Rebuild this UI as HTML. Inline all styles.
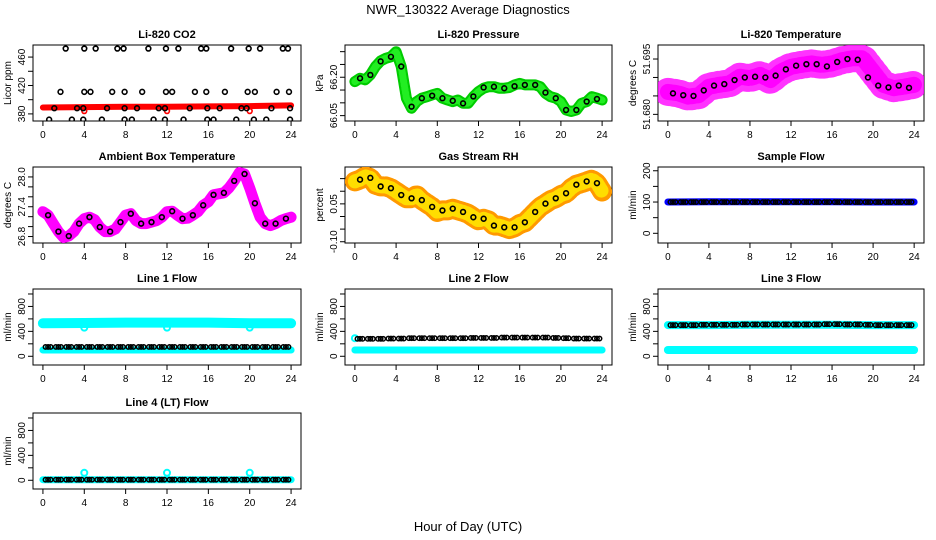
<!DOCTYPE html>
<html><head><meta charset="utf-8"><style>
html,body{margin:0;padding:0;background:#fff}
svg{display:block;font-family:"Liberation Sans",sans-serif}
</style></head><body>
<svg id="c" width="936" height="540" viewBox="0 0 936 540" xmlns="http://www.w3.org/2000/svg">
<text x="468" y="14" text-anchor="middle" font-size="13">NWR_130322  Average Diagnostics</text>
<text x="468" y="531" text-anchor="middle" font-size="13">Hour of Day (UTC)</text>
</svg>
<script>
// ---- data ----
const xTicks=[0,4,8,12,16,20,24];
const co2BlackHours=[2.2,4.0,5.1,7.2,7.8,10.2,11.9,13.1,15.3,15.8,18.2,19.9,21.0,23.2,23.7,
1.7,4.0,4.6,6.7,7.9,9.6,11.9,12.5,14.7,15.8,17.6,19.8,20.5,22.6,23.8,
1.1,3.3,3.9,6.2,7.9,9.1,11.2,11.8,14.2,15.9,17.1,19.2,19.7,22.1,23.9,
0.6,2.8,3.9,5.7,7.9,8.6,10.7,11.8,13.6,15.9,16.5,18.7,20.4,21.6,23.9];
const co2BlackVals=[472,472,472,472,472,472,472,472,472,472,472,472,472,472,472,
411,411,411,411,411,411,411,411,411,411,411,411,411,411,411,
388,388,388,388,388,388,388,388,388,388,388,388,388,388,388,
372,372,372,372,372,372,372,372,372,372,372,372,372,372,372];
const co2RedHours=[0,4,8,12,16,20,24];
const co2RedVals=[389,389.5,390,390,390.5,391,392];
const halfHours=[0,0.5,1,1.5,2,2.5,3,3.5,4,4.5,5,5.5,6,6.5,7,7.5,8,8.5,9,9.5,10,10.5,11,11.5,12,12.5,13,13.5,14,14.5,15,15.5,16,16.5,17,17.5,18,18.5,19,19.5,20,20.5,21,21.5,22,22.5,23,23.5,24];
const blackHours=[0.5,1.5,2.5,3.5,4.5,5.5,6.5,7.5,8.5,9.5,10.5,11.5,12.5,13.5,14.5,15.5,16.5,17.5,18.5,19.5,20.5,21.5,22.5,23.5];
const pressGreen=[66.183,66.196,66.19,66.209,66.242,66.264,66.274,66.28,66.30,66.242,66.118,66.079,66.105,66.118,66.124,66.131,66.137,66.118,66.111,66.105,66.111,66.098,66.098,66.124,66.144,66.157,66.163,66.163,66.157,66.157,66.16,66.17,66.176,66.17,66.17,66.17,66.163,66.137,66.124,66.118,66.105,66.072,66.066,66.072,66.098,66.105,66.124,66.118,66.111];
const pressBlack=[66.196,66.209,66.262,66.28,66.242,66.085,66.118,66.128,66.118,66.108,66.098,66.125,66.16,66.163,66.157,66.165,66.17,66.17,66.14,66.118,66.072,66.072,66.105,66.115];
const liTempHours=[0,1,2,3,4,5,6,7,8,9,10,11,12,13,14,15,16,17,18,19,20,21,22,23,24];
const liTempMagenta=[51.6861,51.6857,51.6848,51.6852,51.6875,51.6880,51.6884,51.6902,51.6898,51.6907,51.6893,51.6916,51.6929,51.6934,51.6938,51.6934,51.6938,51.6947,51.6952,51.6952,51.6916,51.6880,51.6871,51.6875,51.6880];
const liTempBlack=[51.6857,51.6852,51.6850,51.6865,51.6878,51.6882,51.6893,51.6900,51.6902,51.6900,51.6905,51.6922,51.6932,51.6936,51.6936,51.6930,51.6942,51.6950,51.6948,51.6900,51.6878,51.6873,51.6878,51.6872];
const ambMagenta=[27.30,27.23,27.06,26.90,26.78,26.81,26.90,27.06,27.16,27.19,27.14,26.99,26.90,26.90,26.95,27.09,27.23,27.26,27.12,27.06,27.06,27.09,27.12,27.19,27.30,27.31,27.23,27.16,27.17,27.23,27.30,27.43,27.50,27.64,27.66,27.68,27.78,27.92,28.09,28.06,27.78,27.47,27.19,27.06,27.02,27.06,27.12,27.16,27.19];
const ambBlack=[27.23,26.90,26.81,27.06,27.19,26.99,26.90,27.09,27.26,27.06,27.09,27.19,27.31,27.16,27.23,27.43,27.64,27.68,27.92,28.06,27.47,27.06,27.06,27.16];
const rhOrange=[0.139,0.146,0.159,0.153,0.126,0.119,0.119,0.112,0.099,0.085,0.072,0.072,0.085,0.065,0.051,0.038,0.018,0.024,0.024,0.031,0.024,0.018,0.011,-0.003,-0.016,-0.009,-0.016,-0.036,-0.036,-0.043,-0.05,-0.043,-0.03,-0.023,-0.003,0.018,0.038,0.051,0.065,0.072,0.085,0.092,0.112,0.126,0.132,0.139,0.146,0.132,0.099];
const rhBlack=[0.146,0.153,0.119,0.112,0.085,0.072,0.065,0.038,0.024,0.031,0.018,-0.003,-0.009,-0.036,-0.043,-0.043,-0.023,0.018,0.051,0.072,0.092,0.126,0.139,0.132];
const bandHours=[0,4,8,12,16,20,24];
const sampleBlue=[100,101,101,101,101,100,100];
const sampleBlack=[100,100,100,100,100,100,100,100,100,100,100,100,100,100,100,100,100,100,100,100,100,100,100,100];
const line1CyanHi=[530,535,540,540,540,530,530];
const line1CyanLo=[100,100,100,100,100,100,100];
const line1Black=[150,150,150,150,150,150,150,150,150,150,150,150,150,150,150,150,150,150,150,150,150,150,150,150];
const line2Cyan=[100,100,100,100,100,100,100];
const line2Black=[280,280,280,285,285,290,290,290,290,290,290,295,295,295,300,300,300,300,300,295,290,285,285,285];
const line3CyanHi=[500,500,505,505,505,500,500];
const line3CyanLo=[100,100,100,100,100,100,100];
const line3Black=[500,500,500,505,505,505,505,510,510,510,510,510,510,510,510,515,515,510,510,505,500,500,500,500];
const line4Cyan=[10,10,10,10,10,10,10];
const line4Black=[10,10,10,10,10,10,10,10,10,10,10,10,10,10,10,10,10,10,10,10,10,10,10,10];
const dipHours=[4,12,20];
const line1Dips=[460,460,460];
const line4Spikes=[120,120,120];
const co2Ticks=[380,400,420,440,460], co2Labels=["380","","420","","460"];
const pressTicks=[66.05,66.10,66.15,66.20,66.25,66.30], pressLabels=["66.05","","","66.20","",""];
const liTempTicks=[51.680,51.685,51.690,51.695], liTempLabels=["51.680","","","51.695"];
const ambTicks=[26.8,27.0,27.2,27.4,27.6,27.8,28.0], ambLabels=["26.8","","","27.4","","","28.0"];
const rhTicks=[-0.10,-0.05,0,0.05,0.10,0.15], rhLabels=["-0.10","","","0.05","",""];
const sampleTicks=[0,50,100,150,200], sampleLabels=["0","","100","","200"];
const flowTicks=[0,200,400,600,800,1000], flowLabels=["0","","400","","800",""];

// ---- drawing ----
const svg=document.getElementById('c');
const NS='http://www.w3.org/2000/svg';
function mk(tag,attrs,parent){const e=document.createElementNS(NS,tag);for(const k in attrs)e.setAttribute(k,attrs[k]);(parent||svg).appendChild(e);return e;}
const colL=[33,345,658], colR=[301,612,924], rowT=[45,167,289,413], H=76;

function panel(col,row,title,ylab,ylim,ticks,labels,name){
  const L=colL[col],R=colR[col],T=rowT[row],B=T+H;
  const g=mk('g',{});
  
  
  const sx=h=>L+(h+0.96)/25.92*(R-L);
  const sy=v=>B-(v-ylim[0])/(ylim[1]-ylim[0])*(B-T);
  const box=mk('rect',{x:L,y:T,width:R-L,height:H,fill:'none',stroke:'#000','stroke-width':1},g);
  
  
  const t=mk('text',{x:(L+R)/2,y:T-7,'text-anchor':'middle','font-size':11,'font-weight':'bold'},g);
  t.textContent=title;
  
  
  const yl=mk('text',{x:0,y:0,'text-anchor':'middle','font-size':10,transform:`translate(${L-22},${(T+B)/2}) rotate(-90)`},g);
  yl.textContent=ylab;
  
  
  const xa=mk('g',{},g);
  
  
  mk('line',{x1:sx(xTicks[0]),x2:sx(xTicks[xTicks.length-1]),y1:B,y2:B,stroke:'#000'},xa);
  xTicks.forEach(h=>{
    mk('line',{x1:sx(h),x2:sx(h),y1:B,y2:B+5,stroke:'#000'},xa);
    const tl=mk('text',{x:sx(h),y:B+17,'text-anchor':'middle','font-size':10},xa);
    tl.textContent=String(h);
    
    
  });
  const ya=mk('g',{},g);
  
  
  mk('line',{x1:L,x2:L,y1:sy(ticks[0]),y2:sy(ticks[ticks.length-1]),stroke:'#000'},ya);
  ticks.forEach((v,i)=>{
    mk('line',{x1:L-5,x2:L,y1:sy(v),y2:sy(v),stroke:'#000'},ya);
    if(labels[i]){
      const tl=mk('text',{x:0,y:0,'text-anchor':'middle','font-size':10,transform:`translate(${L-8},${sy(v)}) rotate(-90)`},ya);
      tl.textContent=labels[i];
      
      
    }
  });
  const clip='clip'+col+row;
  const cp=mk('clipPath',{id:clip},g);mk('rect',{x:L,y:T,width:R-L,height:H},cp);
  const data=mk('g',{'clip-path':`url(#${clip})`},g);
  
  
  return {sx,sy,g:data};
}
function band(p,hours,vals,color,w,name,dash,op){
  const pts=hours.map((h,i)=>p.sx(h).toFixed(1)+','+p.sy(vals[i]).toFixed(1)).join(' ');
  const a={points:pts,fill:'none',stroke:color,'stroke-width':w,'stroke-linecap':'round','stroke-linejoin':'round'};
  if(dash)a['stroke-dasharray']=dash;
  if(op)a['stroke-opacity']=op;
  const e=mk('polyline',a,p.g);
  
  
  return e;
}
function pts(p,hours,vals,color,name,r,sw){
  hours.forEach((h,i)=>{
    const e=mk('circle',{cx:p.sx(h),cy:p.sy(vals[i]),r:r||2.4,fill:'none',stroke:color,'stroke-width':sw||1.6},p.g);
    
    
  });
}
function densePts(p,hours,vals,color,name){
  hours.forEach((h,i)=>{
    [h-0.25,h,h+0.25].forEach(hh=>{
      const e=mk('circle',{cx:p.sx(hh),cy:p.sy(vals[i]),r:2.2,fill:'none',stroke:color,'stroke-width':1.5},p.g);
      
      
    });
  });
}

let p=panel(0,0,'Li-820 CO2','Licor ppm',[370,477],co2Ticks,co2Labels,'co2');
band(p,co2RedHours,co2RedVals,'#ff0000',6,'co2-red-series');
pts(p,dipHours,[384,384,384],'#ff0000','co2-red-dip');
pts(p,co2BlackHours,co2BlackVals,'#000','co2-black-point');

p=panel(1,0,'Li-820 Pressure','kPa',[66.029,66.326],pressTicks,pressLabels,'pressure');
band(p,halfHours,pressGreen,'#00cc00',11,'pressure-green-band');
band(p,halfHours,pressGreen,'#22ee22',7,'pressure-green-band-dots','2 2');
pts(p,blackHours,pressBlack,'#000','pressure-black-point');

p=panel(2,0,'Li-820 Temperature','degrees C',[51.6782,51.6988],liTempTicks,liTempLabels,'li-temp');
band(p,liTempHours,liTempMagenta,'#ff00ff',28,'li-temp-magenta-cloud','2 4',0.8);
band(p,liTempHours,liTempMagenta,'#ff00ff',16,'li-temp-magenta-mid','3 3');
band(p,liTempHours,liTempMagenta,'#ff00ff',5,'li-temp-magenta-core');
pts(p,blackHours,liTempBlack,'#000','li-temp-black-point');

p=panel(0,1,'Ambient Box Temperature','degrees C',[26.67,28.2],ambTicks,ambLabels,'ambient');
band(p,halfHours,ambMagenta,'#ff00ff',11,'ambient-magenta-band');
pts(p,blackHours,ambBlack,'#000','ambient-black-point');

p=panel(1,1,'Gas Stream RH','percent',[-0.105,0.196],rhTicks,rhLabels,'rh');
band(p,halfHours,rhOrange,'#ff9900',20,'rh-orange-cloud','4 2');
band(p,halfHours,rhOrange,'#ffdd00',14,'rh-yellow-dots','1.5 2.5');
pts(p,blackHours,rhBlack,'#000','rh-black-point');

p=panel(2,1,'Sample Flow','ml/min',[-31,212],sampleTicks,sampleLabels,'sample-flow');
band(p,bandHours,sampleBlue,'#0000ff',7,'sample-blue-band');
densePts(p,blackHours,sampleBlack,'#000','sample-black-point');

p=panel(0,2,'Line 1 Flow','ml/min',[-140,1080],flowTicks,flowLabels,'line1');
band(p,bandHours,line1CyanHi,'#00ffff',10,'line1-cyan-high');
band(p,bandHours,line1CyanLo,'#00ffff',7,'line1-cyan-low');
pts(p,dipHours,line1Dips,'#00ffff','line1-cyan-dip',3,2);
densePts(p,blackHours,line1Black,'#000','line1-black-point');

p=panel(1,2,'Line 2 Flow','ml/min',[-140,1080],flowTicks,flowLabels,'line2');
band(p,bandHours,line2Cyan,'#00ffff',7,'line2-cyan');
pts(p,[0],[290],'#00ffff','line2-cyan-start',3,2);
densePts(p,blackHours,line2Black,'#000','line2-black-point');

p=panel(2,2,'Line 3 Flow','ml/min',[-140,1080],flowTicks,flowLabels,'line3');
band(p,bandHours,line3CyanHi,'#00ffff',8,'line3-cyan-high');
band(p,bandHours,line3CyanLo,'#00ffff',8,'line3-cyan-low');
densePts(p,blackHours,line3Black,'#000','line3-black-point');

p=panel(0,3,'Line 4 (LT) Flow','ml/min',[-140,1080],flowTicks,flowLabels,'line4');
band(p,bandHours,line4Cyan,'#00ffff',7,'line4-cyan');
pts(p,dipHours,line4Spikes,'#00ffff','line4-cyan-spike',3,2);
densePts(p,blackHours,line4Black,'#000','line4-black-point');
</script>
</body></html>
